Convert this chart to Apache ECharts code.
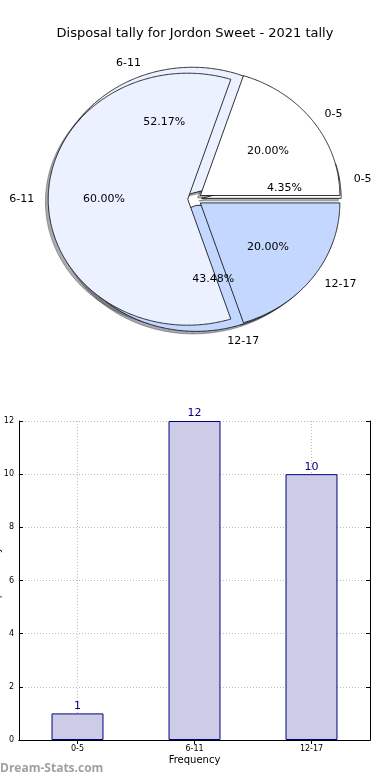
<!DOCTYPE html>
<html>
<head>
<meta charset="utf-8">
<script src="https://cdn.jsdelivr.net/npm/echarts@6/dist/echarts.min.js"></script>
<style>
html,body{margin:0;padding:0;background:#fff;}
#chart{width:390px;height:780px;}
</style>
</head>
<body>
<div id="chart"></div>
<script>
// ---- data ----
const categories = ['0-5', '6-11', '12-17'];
const tallyCounts = [1, 12, 10];          // bar values and inner (under) pie
const sharePercents = [20, 60, 20];       // top pie shares
const yMin = 0, yMax = 12, yStep = 2;
const titleText = 'Disposal tally for Jordon Sweet - 2021 tally';
const xAxisTitle = 'Frequency';
const yAxisTitle = 'Disposal tally';
const watermark = 'Dream-Stats.com';

// ---- styles ----
const pieColors = ['#ffffff', '#ebf1ff', '#c4d8ff'];
const shadowColors = ['rgba(77,77,77,0.45)', 'rgba(70,72,77,0.45)', 'rgba(59,65,77,0.45)'];
const FONT = 'DejaVu Sans, Verdana, sans-serif';
const PIE = { cx: 194.7, cy: 199.2, rx: 139.5, ry: 126, explode: 0.05, shadow: 0.02 };

function wedgeGeom(values, i) {
  const total = values.reduce((a, b) => a + b, 0);
  let start = 0;
  for (let k = 0; k < i; k++) start += values[k];
  const t1 = start / total * 2 * Math.PI;
  const t2 = (start + values[i]) / total * 2 * Math.PI;
  const tm = (t1 + t2) / 2;
  return {
    t1, t2, tm,
    ex: PIE.cx + PIE.explode * PIE.rx * Math.cos(tm),
    ey: PIE.cy - PIE.explode * PIE.ry * Math.sin(tm),
    frac: values[i] / total
  };
}
function wedgePoints(g, dx, dy) {
  const pts = [[g.ex + dx, g.ey + dy]];
  const n = Math.max(2, Math.ceil((g.t2 - g.t1) / (Math.PI / 360)));
  for (let j = 0; j <= n; j++) {
    const t = g.t1 + (g.t2 - g.t1) * j / n;
    pts.push([g.ex + dx + PIE.rx * Math.cos(t), g.ey + dy - PIE.ry * Math.sin(t)]);
  }
  return pts;
}
function pieSeries(values, mode, z) {
  return {
    type: 'custom',
    coordinateSystem: 'none',
    silent: true,
    z: z,
    data: values.map((v, i) => [i, v]),
    renderItem: function (params) {
      const i = params.dataIndex;
      const g = wedgeGeom(values, i);
      if (mode === 'shadow') {
        return {
          type: 'polygon',
          shape: { points: wedgePoints(g, -PIE.shadow * PIE.rx, PIE.shadow * PIE.ry) },
          style: { fill: shadowColors[i], stroke: shadowColors[i], lineWidth: 1 }
        };
      }
      if (mode === 'wedge') {
        return {
          type: 'polygon',
          shape: { points: wedgePoints(g, 0, 0) },
          style: { fill: pieColors[i], stroke: '#000', lineWidth: 0.8 }
        };
      }
      const lx = g.ex + 1.1 * PIE.rx * Math.cos(g.tm);
      const ly = g.ey - 1.1 * PIE.ry * Math.sin(g.tm);
      const px = g.ex + 0.6 * PIE.rx * Math.cos(g.tm);
      const py = g.ey - 0.6 * PIE.ry * Math.sin(g.tm);
      return {
        type: 'group',
        children: [
          { type: 'text', style: { text: categories[i], x: lx, y: ly,
              align: lx > PIE.cx ? 'left' : 'right', verticalAlign: 'middle',
              fontSize: 11, fontFamily: FONT, fill: '#000' } },
          { type: 'text', style: { text: (g.frac * 100).toFixed(2) + '%', x: px, y: py,
              align: 'center', verticalAlign: 'middle',
              fontSize: 11, fontFamily: FONT, fill: '#000' } }
        ]
      };
    }
  };
}

const chart = echarts.init(document.getElementById('chart'), null, { renderer: 'canvas' });
const axisFont = { fontSize: 8, color: '#000', fontFamily: FONT };
const gridLine = { color: '#bdbdbd', type: [1, 2], width: 1 };
const option = {
  animation: false,
  backgroundColor: '#fff',
  title: {
    text: titleText, left: 'center', top: 22,
    textStyle: { fontSize: 13, fontWeight: 'normal', color: '#000', fontFamily: FONT }
  },
  grid: { left: 19, right: 20, top: 421, bottom: 40, containLabel: false, outerBoundsMode: 'none' },
  xAxis: [
    {
      type: 'category', data: categories, position: 'bottom',
      boundaryGap: true,
      axisLine: { show: true, lineStyle: { color: '#000', width: 1 } },
      axisTick: { show: true, inside: true, alignWithLabel: true, length: 4, lineStyle: { color: '#000' } },
      axisLabel: Object.assign({ margin: 5 }, axisFont),
      splitLine: { show: true, alignWithLabel: true, lineStyle: gridLine },
      name: xAxisTitle, nameLocation: 'middle', nameGap: 15, nameMoveOverlap: false,
      nameTextStyle: { fontSize: 10, color: '#000', fontFamily: FONT }
    },
    {
      type: 'category', data: categories, position: 'top',
      axisLine: { show: true, lineStyle: { color: '#000', width: 1 } },
      axisTick: { show: true, inside: true, alignWithLabel: true, length: 4, lineStyle: { color: '#000' } },
      axisLabel: { show: false }, splitLine: { show: false }
    }
  ],
  yAxis: [
    {
      type: 'value', min: yMin, max: yMax, interval: yStep, position: 'left',
      axisLine: { show: true, lineStyle: { color: '#000', width: 1 } },
      axisTick: { show: true, inside: true, length: 4, lineStyle: { color: '#000' } },
      axisLabel: Object.assign({ margin: 5 }, axisFont),
      splitLine: { show: true, lineStyle: gridLine },
      name: yAxisTitle, nameLocation: 'middle', nameGap: 17, nameMoveOverlap: false,
      nameTextStyle: { fontSize: 10, color: '#000', fontFamily: FONT }
    },
    {
      type: 'value', min: yMin, max: yMax, interval: yStep, position: 'right',
      axisLine: { show: true, lineStyle: { color: '#000', width: 1 } },
      axisTick: { show: true, inside: true, length: 4, lineStyle: { color: '#000' } },
      axisLabel: { show: false }, splitLine: { show: false }
    }
  ],
  graphic: [
    { type: 'text', left: 0, top: 763, style: { text: watermark, fontSize: 12, fontWeight: 'bold', fill: '#a0a0a0', fontFamily: 'Open Sans, DejaVu Sans, sans-serif' } }
  ],
  series: [
    {
      type: 'bar', data: tallyCounts, xAxisIndex: 0, yAxisIndex: 0,
      barWidth: '44.4%',
      itemStyle: { color: '#ccccE6', borderColor: '#000080', borderWidth: 1 },
      label: { show: true, position: 'top', distance: 2, color: '#000080', fontSize: 11, fontFamily: FONT },
      z: 2
    },
    pieSeries(tallyCounts, 'shadow', 1),
    pieSeries(sharePercents, 'shadow', 1),
    pieSeries(tallyCounts, 'wedge', 2),
    pieSeries(sharePercents, 'wedge', 3),
    pieSeries(tallyCounts, 'label', 4),
    pieSeries(sharePercents, 'label', 4)
  ]
};
chart.setOption(option);
</script>
</body>
</html>
